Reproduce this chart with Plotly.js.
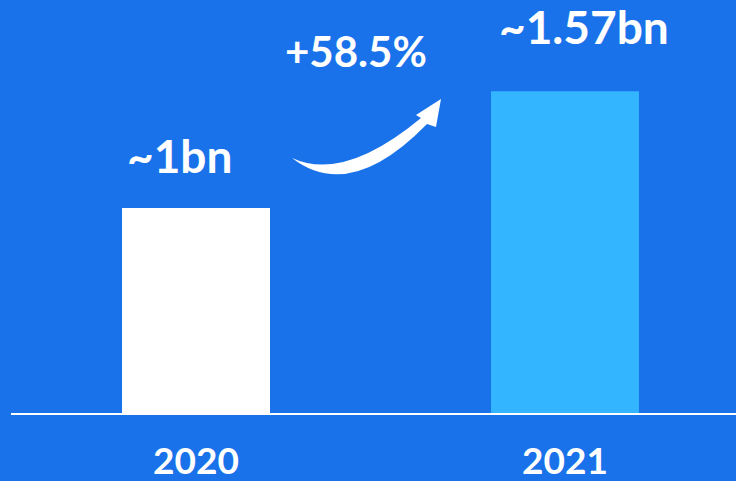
<!DOCTYPE html>
<html><head><meta charset="utf-8">
<script src="https://cdn.plot.ly/plotly-3.0.1.min.js"></script>
<style>html,body{margin:0;padding:0;background:#1a72ea;}#chart{width:736px;height:481px;}</style>
</head><body><div id="chart"></div>
<script>
const years = ['2020', '2021'];
const users = [1, 1.57];
const valueLabels = ['~1bn', '~1.57bn'];
const barColors = ['#ffffff', '#33b5ff'];
const growthLabel = '+58.5%';

const W = 736, H = 481, ML = 11, MR = 0, MT = 0, MB = 68;
const PW = W - ML - MR, PH = H - MT - MB;
function px(x){return (x - ML) / PW;}
function py(y){return (H - MB - y) / PH;}
function pt(x, y){return px(x).toFixed(4) + ',' + py(y).toFixed(4);}

const FONT = 'Lato, "DejaVu Sans", sans-serif';

const arrowPath = 'M ' + pt(292,158) + ' Q ' + pt(350,203) + ' ' + pt(427,124) +
  ' L ' + pt(436,127) + ' L ' + pt(441,99) + ' L ' + pt(416,115) + ' L ' + pt(421,118) +
  ' Q ' + pt(344,182) + ' ' + pt(292,158) + ' Z';

const data = [{
  type: 'bar', x: years, y: users, width: 0.401,
  marker: {color: barColors, line: {width: 0}},
  hoverinfo: 'none'
}];

const annotations = years.map((yr, i) => ({
  x: i, y: users[i], xref: 'x', yref: 'y', text: valueLabels[i], showarrow: false,
  borderpad: 0, xanchor: 'center', yanchor: 'bottom', yshift: i === 0 ? 24 : 36, xshift: i === 0 ? -17 : 19,
  font: {family: FONT, size: 46, color: '#ffffff', weight: 'bold'}
}));
annotations.push({
  x: px(356), y: py(51), xref: 'paper', yref: 'paper', text: growthLabel, showarrow: false,
  xanchor: 'center', yanchor: 'middle',
  font: {family: FONT, size: 42, color: '#ffffff', weight: 'bold'}
});

const layout = {
  width: W, height: H,
  margin: {l: ML, r: MR, t: MT, b: MB},
  paper_bgcolor: '#1a72ea', plot_bgcolor: '#1a72ea',
  showlegend: false,
  xaxis: {type: 'category', range: [-0.5014, 1.4634], showgrid: false, zeroline: false,
    showline: true, linecolor: '#ffffff', linewidth: 2, ticks: '', ticklabelstandoff: 15,
    tickfont: {family: FONT, size: 37, color: '#ffffff', weight: 'bold'}, fixedrange: true},
  yaxis: {range: [0, 413/205], visible: false, showgrid: false, zeroline: false, fixedrange: true},
  annotations: annotations,
  shapes: [{type: 'path', xref: 'paper', yref: 'paper', path: arrowPath,
    fillcolor: '#ffffff', line: {width: 0}}]
};

Plotly.newPlot('chart', data, layout, {displayModeBar: false, staticPlot: true});
</script></body></html>
